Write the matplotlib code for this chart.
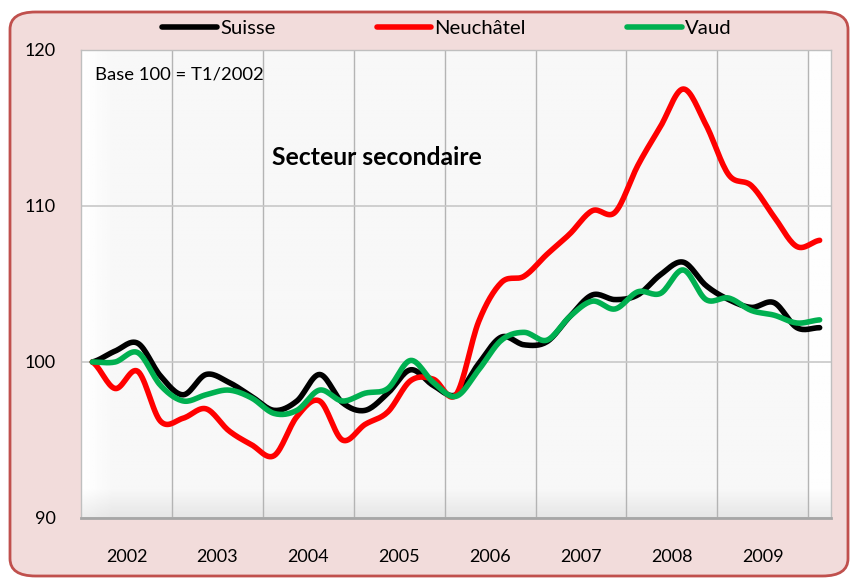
import numpy as np
import matplotlib
matplotlib.use('Agg')
import matplotlib.pyplot as plt
from matplotlib.patches import FancyBboxPatch

plt.rcParams['font.family'] = ['Lato', 'DejaVu Sans']

years = ['2002', '2003', '2004', '2005', '2006', '2007', '2008', '2009']
# trimestres T1/2002 .. T1/2010
suisse = [100.0, 100.7, 101.2, 99.1, 97.9, 99.2, 98.7, 97.8, 96.9, 97.5, 99.2,
          97.4, 96.9, 98.0, 99.5, 98.5, 97.9, 99.9, 101.6, 101.1, 101.3, 102.9,
          104.3, 104.0, 104.3, 105.6, 106.4, 104.9, 104.0, 103.5, 103.8, 102.2, 102.2]
neuchatel = [100.0, 98.3, 99.4, 96.2, 96.4, 97.0, 95.6, 94.7, 94.0, 96.5, 97.5,
             95.0, 96.0, 96.8, 98.8, 98.9, 97.9, 102.6, 105.1, 105.5, 106.9, 108.2,
             109.7, 109.6, 112.6, 115.1, 117.5, 115.2, 112.0, 111.3, 109.3, 107.4, 107.8]
vaud = [100.0, 100.0, 100.6, 98.5, 97.5, 97.9, 98.2, 97.7, 96.7, 96.9, 98.2,
        97.5, 98.0, 98.3, 100.1, 98.7, 97.8, 99.5, 101.4, 101.9, 101.4, 102.9,
        103.9, 103.4, 104.5, 104.4, 105.9, 104.0, 104.1, 103.3, 103.0, 102.5, 102.7]


def smooth(y, n=16):
    # courbe lissée type Excel (Catmull-Rom)
    y = np.asarray(y, float)
    e = np.concatenate([[y[0]], y, [y[-1]]])
    xs, ys = [], []
    for i in range(len(y) - 1):
        p0, p1, p2, p3 = e[i], e[i + 1], e[i + 2], e[i + 3]
        t = np.linspace(0, 1, n, endpoint=False)
        ys.append(0.5 * ((2 * p1) + (-p0 + p2) * t + (2 * p0 - 5 * p1 + 4 * p2 - p3) * t**2
                         + (-p0 + 3 * p1 - 3 * p2 + p3) * t**3))
        xs.append(i + t)
    xs.append([len(y) - 1])
    ys.append([y[-1]])
    return np.concatenate(xs), np.concatenate(ys)


fig = plt.figure(figsize=(8.52, 5.78), dpi=100)
fig.patch.set_facecolor('white')
bg = FancyBboxPatch((10 / 852, 2 / 578), 838 / 852, 564 / 578,
                    boxstyle='round,pad=0,rounding_size=0.03',
                    transform=fig.transFigure, facecolor='#F2DCDB',
                    edgecolor='#C0504D', linewidth=2, zorder=-5)
fig.patches.append(bg)

ax = fig.add_axes([81 / 852, 1 - 518 / 578, 750 / 852, 468 / 578])
ax.set_zorder(2)
ax.set_facecolor('#F8F8F8')

# fond du graphique: léger dégradé + sol
h, w = 200, 300
img = np.full((h, w), 0.972)
xx = np.linspace(0, 1, w)
yy = np.linspace(1, 0, h)[:, None]
img = np.minimum(1, img + 0.028 * np.clip(1 - xx / 0.04, 0, 1))
img = np.where(xx > 0.97, 0.995, img) * np.ones((h, 1))
floor = np.clip((0.06 - yy) / 0.06, 0, 1)
img = img - 0.07 * floor * np.ones((1, w))
ax.imshow(img, cmap='gray', vmin=0, vmax=1, extent=[0, 1, 0, 1],
          transform=ax.transAxes, aspect='auto', zorder=0)

for vals, col, lab in [(suisse, 'black', 'Suisse'),
                       (neuchatel, '#FF0000', 'Neuchâtel'),
                       (vaud, '#00B050', 'Vaud')]:
    sx, sy = smooth(vals)
    ax.plot(sx, sy, color=col, lw=4.0, solid_capstyle='round', label=lab, zorder=3)

ax.set_xlim(-0.5, len(suisse) - 0.5)
ax.set_ylim(90, 120)
ax.set_yticks([90, 100, 110, 120])
ax.set_xticks([4 * i + 1.5 for i in range(len(years))])
ax.set_xticklabels(years)
ax.set_xticks([4 * i + 3.5 for i in range(len(years))], minor=True)
ax.tick_params(axis='both', which='both', length=0, labelsize=13, colors='black')
ax.tick_params(axis='y', pad=18)
ax.tick_params(axis='x', pad=22)
ax.grid(True, which='minor', axis='x', color='#B4B4B4', lw=1)
ax.grid(True, which='major', axis='y', color='#C8C8C8', lw=1.2)
ax.set_axisbelow(True)
for s in ['top', 'left', 'right']:
    ax.spines[s].set_color('#BFBFBF')
    ax.spines[s].set_linewidth(1)
ax.spines['bottom'].set_color('#A6A6A6')
ax.spines['bottom'].set_linewidth(2)

ax.text(0.019, 0.947, 'Base 100 = T1/2002', transform=ax.transAxes,
        fontsize=13.3, va='center', ha='left')
ax.text(0.395, 0.771, 'Secteur secondaire', transform=ax.transAxes,
        fontsize=17.8, fontweight='bold', va='center', ha='center')

fig.legend(loc='center', bbox_to_anchor=(447 / 852, 1 - 28 / 578), ncol=3,
           frameon=False, fontsize=14.6, handlelength=2.7, handletextpad=0.15,
           columnspacing=5.0)

fig.savefig('out.png', dpi=100)
